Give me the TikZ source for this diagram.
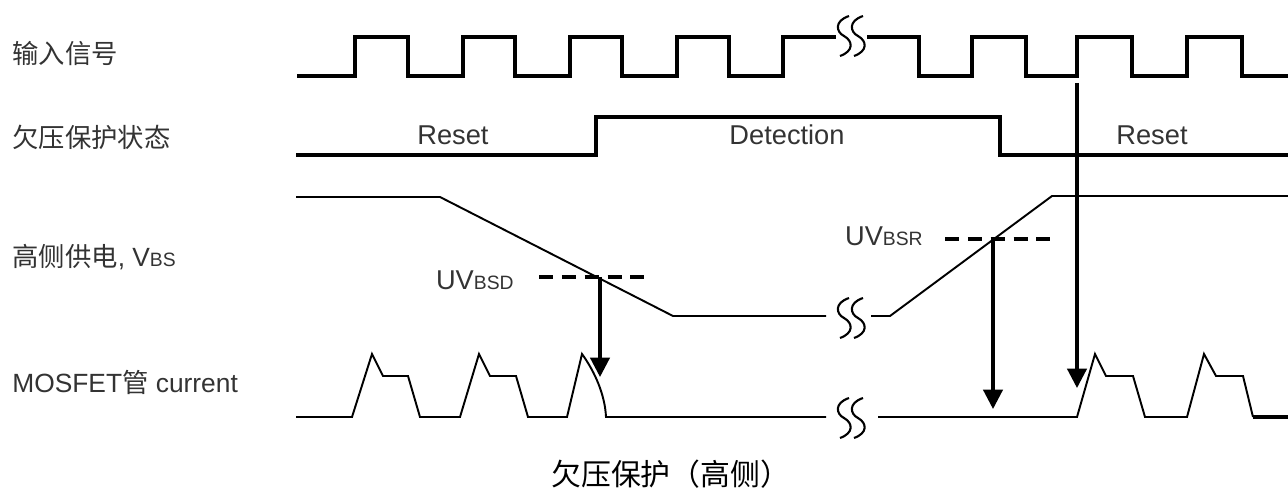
\documentclass[tikz,border=0pt]{standalone}
\usepackage{fontspec}
\setmainfont{Liberation Sans}
\newfontfamily\cjk{Noto Sans CJK SC}
\usetikzlibrary{arrows.meta}

\tikzset{
  sig/.style={line width=1.8pt},
  wave/.style={line width=1.1pt},
  lvl/.style={line width=1.8pt, dash pattern=on 8pt off 5pt},
  arr/.style={line width=1.8pt, -{Triangle[length=11pt,width=11pt]}},
  brk/.style={line width=1.2pt},
  lbl/.style={anchor=west, inner sep=0pt, text=black!80, font=\fontsize{15}{18}\selectfont},
  tag/.style={inner sep=0pt, text=black!80, font=\fontsize{15.5}{18}\selectfont},
}
\newcommand{\subtxt}[1]{{\fontsize{11}{12}\selectfont #1}}
% break mark centred at (#1,#2)
\newcommand{\brkmark}[2]{%
  \foreach \dx in {-7,7}
    \draw[brk] ({#1+(\dx)+5},{#2-20}) .. controls ({#1+(\dx)-10},{#2-15}) and ({#1+(\dx)-8},{#2-4}) .. ({#1+(\dx)},{#2})
      .. controls ({#1+(\dx)+9},{#2+5}) and ({#1+(\dx)+10},{#2+15}) .. ({#1+(\dx)-4},{#2+20});
}

\begin{document}
\begin{tikzpicture}[x=0.02cm, y=-0.02cm]
  \useasboundingbox (0,0) rectangle (1288,493);
  % row labels
  \node[lbl] (lin) at (12,53) {\cjk 输入信号};
  \node[lbl] (lstate) at (12,137) {\cjk 欠压保护状态};
  \node[lbl] (lvbs) at (12,257) {{\cjk 高侧供电}, V\subtxt{BS}};
  \node[lbl] (lcur) at (12,382) {MOSFET{\cjk 管} current};
  % input signal
  \draw[sig] (297,76) -- (355,76) -- (355,37) -- (408,37) -- (408,76) -- (463,76) -- (463,37)
    -- (515,37) -- (515,76) -- (570,76) -- (570,37) -- (622,37) -- (622,76) -- (677,76)
    -- (677,37) -- (729,37) -- (729,76) -- (783,76) -- (783,37) -- (836,37);
  \draw[sig] (867,37) -- (919,37) -- (919,76) -- (972,76) -- (972,37) -- (1026,37) -- (1026,76)
    -- (1077,76) -- (1077,37) -- (1132,37) -- (1132,76) -- (1187,76) -- (1187,37) -- (1242,37)
    -- (1242,76) -- (1288,76);
  \brkmark{851}{36}
  % state
  \draw[sig] (296,155) -- (596,155) -- (596,117) -- (1000,117) -- (1000,155) -- (1288,155);
  \node[tag] (reset1) at (453,135) {Reset};
  \node[tag] (detect) at (787,135) {Detection};
  \node[tag] (reset2) at (1152,135) {Reset};
  % supply
  \draw[wave] (296,197) -- (440,197) -- (673,316) -- (826,316);
  \draw[wave] (871,316) -- (890,316) -- (1052,196) -- (1288,196);
  \brkmark{851}{318}
  \draw[lvl] (539,277) -- (647,277);
  \draw[lvl] (945,239) -- (1052,239);
  \node[tag, anchor=east] (uvbsd) at (514,280) {UV\subtxt{BSD}};
  \node[tag, anchor=east] (uvbsr) at (923,236) {UV\subtxt{BSR}};
  % current
  \draw[wave] (296,417) -- (352,417) -- (372,354) -- (383,376) -- (408,376) -- (420,417)
    -- (460,417) -- (479,354) -- (490,376) -- (516,376) -- (528,417) -- (567,417) -- (582,354)
    .. controls (595,372) and (605,395) .. (606,417) -- (826,417);
  \draw[wave] (878,417) -- (1077,417) -- (1095,354) -- (1106,376) -- (1133,376) -- (1145,417)
    -- (1187,417) -- (1204,354) -- (1216,376) -- (1243,376) -- (1253,417);
  \draw[sig] (1253,417) -- (1288,417);
  \brkmark{851}{418}
  % arrows
  \coordinate (dA) at (600,277);
  \coordinate (dB) at (600,377);
  \coordinate (rA) at (993,239);
  \coordinate (rB) at (993,409);
  \coordinate (iA) at (1077,83);
  \coordinate (iB) at (1077,388);
  \draw[arr] (dA) -- (dB);
  \draw[arr] (rA) -- (rB);
  \draw[arr] (iA) -- (iB);
  % caption
  \node[anchor=west, inner sep=0pt, font=\cjk\fontsize{17}{20}\selectfont] (cap) at (551,474) {欠压保护（高侧）};
\end{tikzpicture}
\end{document}
